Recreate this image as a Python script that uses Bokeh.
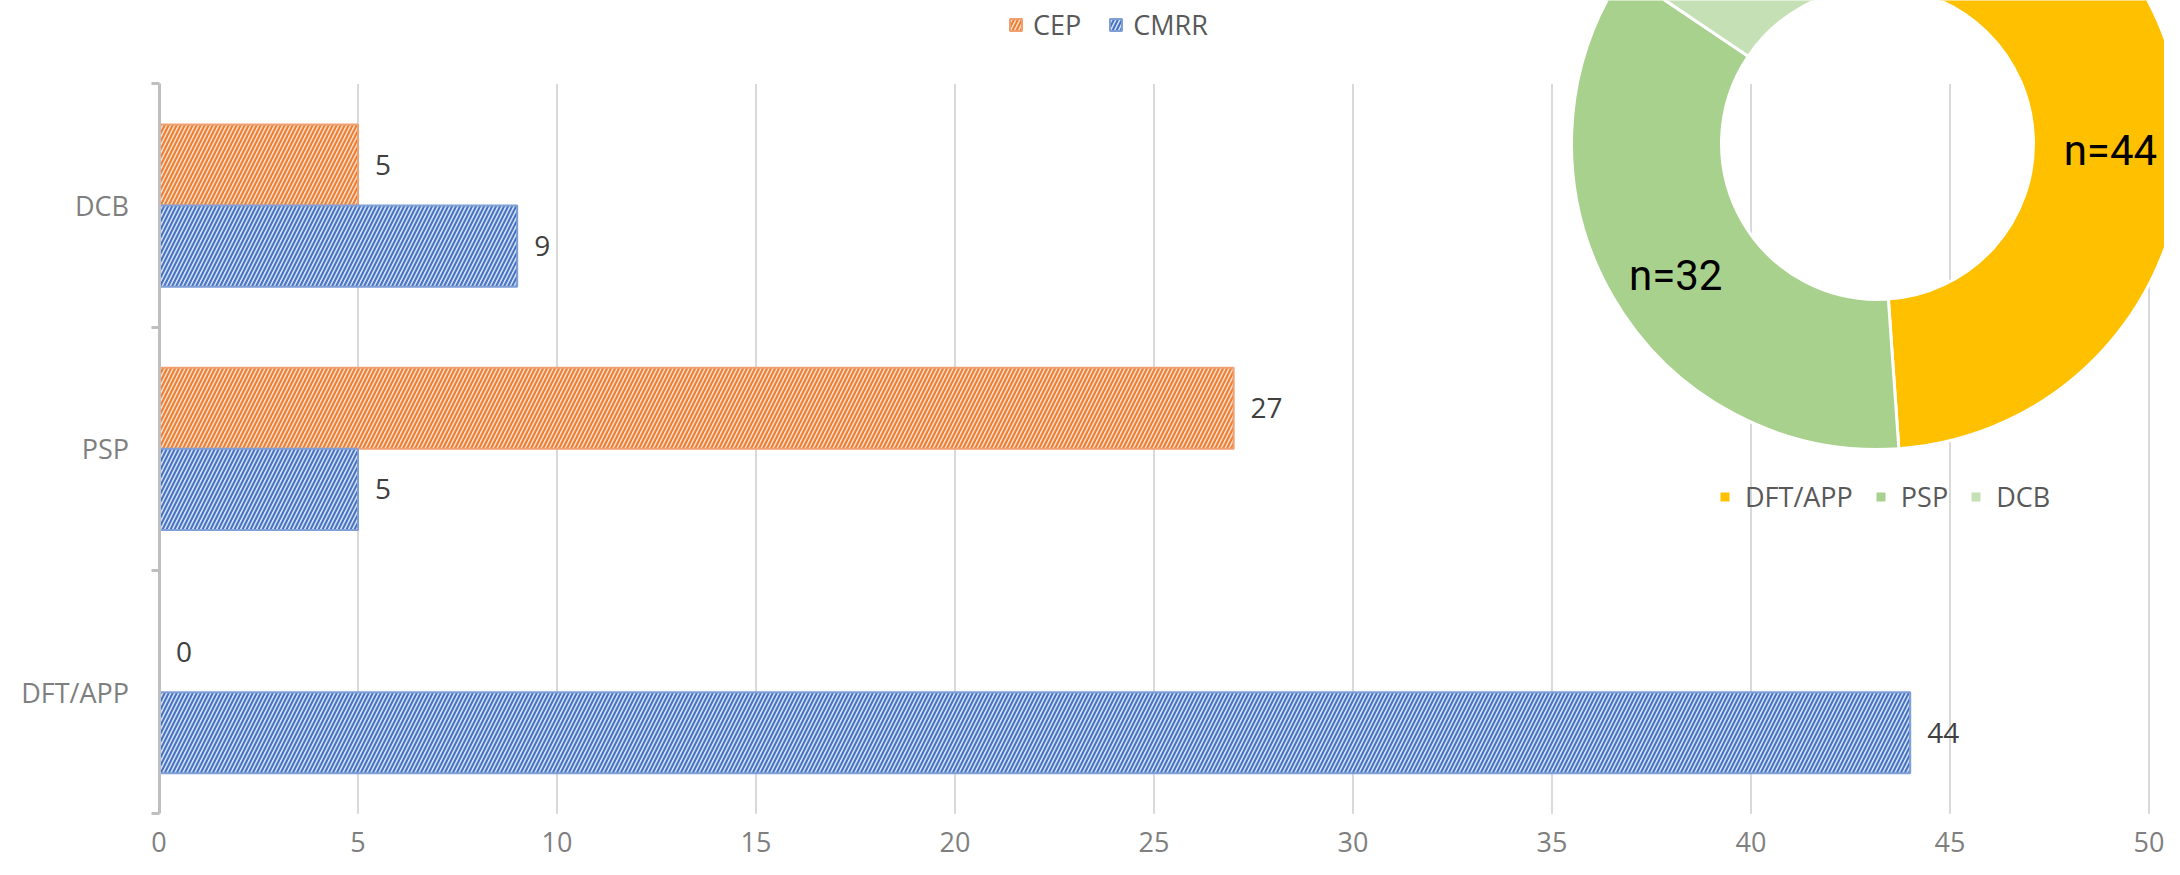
import math
from bokeh.plotting import figure
from bokeh.models import (Range1d, FixedTicker, Legend, LegendItem, ColumnDataSource)
from bokeh.core.properties import value
from bokeh.embed import file_html
from bokeh.resources import INLINE

# ---------------- data ----------------
categories = ["DFT/APP", "PSP", "DCB"]          # bottom to top
cep = [0, 27, 5]
cmrr = [44, 5, 9]
x_ticks = [0, 5, 10, 15, 20, 25, 30, 35, 40, 45, 50]

donut_names = ["DFT/APP", "PSP", "DCB"]
donut_values = [44, 32, 14]
donut_colors = ["#FFC000", "#A9D18E", "#C5E0B4"]
donut_shown_labels = [True, True, False]

# ---------------- layout ----------------
W, H = 2164, 859
ZERO_X = 158.5                    # pixel column of x = 0
ZERO_Y = 813.3                    # pixel row of y = 0
PX_X = 39.8                       # px per x unit
BAND = 243.3                      # px per category
x_start = -ZERO_X / PX_X
x_end = x_start + W / PX_X
y_start = -(H - ZERO_Y) / BAND
y_end = y_start + H / BAND

FONT_NAME = "Open Sans"
FONT = value(FONT_NAME)

p = figure(width=W, height=H, x_range=Range1d(x_start, x_end), y_range=Range1d(y_start, y_end),
           output_backend="svg", toolbar_location=None, min_border=0)
p.outline_line_color = None
p.xgrid.visible = False
p.ygrid.visible = False

n = len(categories)
# vertical grid lines limited to the category area
p.segment(x0=x_ticks, y0=[0] * len(x_ticks), x1=x_ticks, y1=[n] * len(x_ticks),
          line_color="#D9D9D9", line_width=2)

bar_h = 1.0 / 3.0
src = ColumnDataSource(dict(
    cat=categories, cep=cep, cmrr=cmrr,
    y_cep=[i + 0.5 + bar_h / 2 for i in range(n)],
    y_cmrr=[i + 0.5 - bar_h / 2 for i in range(n)],
    cep_lbl=[str(v) for v in cep], cmrr_lbl=[str(v) for v in cmrr],
))

r_cep = p.hbar(y="y_cep", left=0, right="cep", height=bar_h, source=src,
               fill_color="#FBDCC6", line_color="#F0A070", line_width=2,
               hatch_pattern="/", hatch_color="#ED7D31", hatch_scale=8, hatch_weight=2)
r_cmrr = p.hbar(y="y_cmrr", left=0, right="cmrr", height=bar_h, source=src,
                fill_color="#D5DFF3", line_color="#7F9FD6", line_width=2,
                hatch_pattern="/", hatch_color="#4472C4", hatch_scale=8, hatch_weight=2)

for col, ycol in (("cep", "y_cep"), ("cmrr", "y_cmrr")):
    p.text(x=col, y=ycol, text=col + "_lbl", source=src, x_offset=17,
           text_align="left", text_baseline="middle", text_font=FONT,
           text_font_size="28px", text_color="#404040")

# ---------------- donut ----------------
cx = (1877 - ZERO_X) / PX_X
cy = (ZERO_Y - 143) / BAND
R_IN, R_OUT = 156, 306
total = float(sum(donut_values))
starts, ends, mids = [], [], []
cum = 0.0
for v in donut_values:
    a0 = math.pi / 2 - 2 * math.pi * cum / total
    cum += v
    a1 = math.pi / 2 - 2 * math.pi * cum / total
    starts.append(a0); ends.append(a1); mids.append((a0 + a1) / 2)

dsrc = ColumnDataSource(dict(name=donut_names, val=donut_values, color=donut_colors,
                             start=starts, end=ends))
r_donut = p.annular_wedge(x=cx, y=cy, inner_radius=R_IN, outer_radius=R_OUT,
                          inner_radius_units="screen", outer_radius_units="screen",
                          start_angle="start", end_angle="end", direction="clock",
                          fill_color="color", line_color="white", line_width=3, source=dsrc)

r_mid = (R_IN + R_OUT) / 2 + 2
lab_txt, lab_dx, lab_dy = [], [], []
for v, a, show in zip(donut_values, mids, donut_shown_labels):
    if show:
        lab_txt.append("n=%d" % v)
        lab_dx.append(r_mid * math.cos(a))
        lab_dy.append(-r_mid * math.sin(a) + 15)
p.text(x=[cx] * len(lab_txt), y=[cy] * len(lab_txt), text=lab_txt,
       x_offset=lab_dx, y_offset=lab_dy, text_align="center", text_baseline="middle",
       text_font=value("Roboto"), text_font_size="42px", text_color="black")

# ---------------- axes (pinned at the data origin) ----------------
ya = p.yaxis[0]
ya.fixed_location = 0
ya.ticker = FixedTicker(ticks=[i + 0.5 for i in range(n)], minor_ticks=list(range(n + 1)))
ya.major_label_overrides = {i + 0.5: c for i, c in enumerate(categories)}
ya.bounds = (0, n)
ya.axis_line_color = "#BFBFBF"
ya.axis_line_width = 3
ya.major_tick_line_color = None
ya.major_tick_out = 8
ya.major_tick_in = 0
ya.minor_tick_line_color = "#BFBFBF"
ya.minor_tick_line_width = 3
ya.minor_tick_out = 8
ya.minor_tick_in = 0
ya.major_label_standoff = 22
ya.major_label_text_font = FONT_NAME
ya.major_label_text_font_size = "27px"
ya.major_label_text_color = "#7F7F7F"

xa = p.xaxis[0]
xa.fixed_location = 0
xa.ticker = FixedTicker(ticks=x_ticks)
xa.bounds = (x_ticks[0], x_ticks[-1])
xa.axis_line_color = None
xa.major_tick_line_color = None
xa.minor_tick_line_color = None
xa.major_tick_out = 0
xa.major_tick_in = 0
xa.minor_tick_out = 0
xa.minor_tick_in = 0
xa.major_label_standoff = 18
xa.major_label_text_font = FONT_NAME
xa.major_label_text_font_size = "27px"
xa.major_label_text_color = "#7F7F7F"

# ---------------- legends ----------------
def style_legend(lg, standoff, spacing):
    lg.orientation = "horizontal"
    lg.border_line_color = None
    lg.background_fill_alpha = 0
    lg.padding = 0
    lg.margin = 0
    lg.glyph_width = 15
    lg.glyph_height = 15
    lg.label_standoff = standoff
    lg.spacing = spacing
    lg.label_text_font = FONT_NAME
    lg.label_text_font_size = "27px"
    lg.label_text_color = "#595959"

bar_legend = Legend(items=[LegendItem(label="CEP", renderers=[r_cep]),
                           LegendItem(label="CMRR", renderers=[r_cmrr])],
                    location=(1008, H - 43))
style_legend(bar_legend, 10, 27)
p.add_layout(bar_legend)

donut_legend = Legend(items=[LegendItem(label=nm, renderers=[r_donut], index=i)
                             for i, nm in enumerate(donut_names)],
                      location=(1717, H - 515))
style_legend(donut_legend, 13, 20)
p.add_layout(donut_legend)

open("out.html", "w").write(file_html(p, INLINE))
